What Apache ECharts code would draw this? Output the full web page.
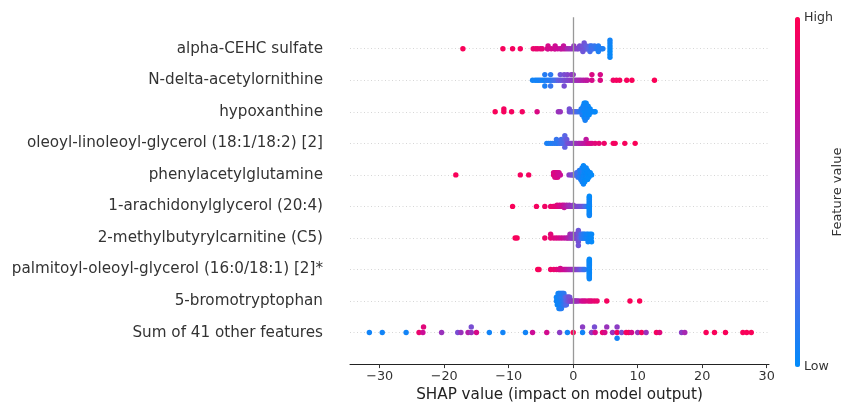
<!DOCTYPE html>
<html>
<head>
<meta charset="utf-8">
<script src="https://cdn.jsdelivr.net/npm/echarts@6/dist/echarts.min.js"></script>
<style>html,body{margin:0;padding:0;background:#fff;}#chart{width:846px;height:408px;}</style>
</head>
<body>
<div id="chart"></div>
<script>
// ---------- data ----------
const features = [
  'alpha-CEHC sulfate',
  'N-delta-acetylornithine',
  'hypoxanthine',
  'oleoyl-linoleoyl-glycerol (18:1/18:2) [2]',
  'phenylacetylglutamine',
  '1-arachidonylglycerol (20:4)',
  '2-methylbutyrylcarnitine (C5)',
  'palmitoyl-oleoyl-glycerol (16:0/18:1) [2]*',
  '5-bromotryptophan',
  'Sum of 41 other features'
];
const xTicks = [-30, -20, -10, 0, 10, 20, 30];

// each point: [SHAP value, normalised feature value]
const alphaCEHC = [
  [-17.1,0.97],[-10.9,0.96],[-9.4,0.95],[-8.2,0.95],
  [-6.2,0.9],[-5.8,0.9],[-5.5,0.88],[-5.1,0.88],[-4.8,0.86],
  [-4.0,0.8],[-3.9,0.78],[-3.9,0.8],[-3.4,0.78],[-2.9,0.78],[-2.8,0.75],[-2.8,0.76],[-2.4,0.75],[-2.0,0.72],[-1.8,0.72],[-1.5,0.7],[-1.5,0.72],[-1.2,0.68],
  [-0.9,0.6],[-0.6,0.58],[-0.3,0.55],[0.0,0.55],[0.1,0.52],[0.3,0.5],[0.6,0.48],[0.8,0.45],
  [1.0,0.42],[1.2,0.4],[1.4,0.4],[1.5,0.38],[1.5,0.36],[1.5,0.35],[1.7,0.36],[1.9,0.35],[2.0,0.33],[2.0,0.3],[2.2,0.3],
  [2.4,0.25],[2.6,0.22],[2.6,0.2],[2.8,0.2],[2.85,0.15],[2.9,0.18],[3.1,0.18],[3.3,0.15],[3.6,0.12],[3.8,0.12],[3.9,0.1],[3.9,0.08],[4.1,0.1],[4.4,0.1],[4.6,0.08],
  [5.7,0.02],[5.7,0.03],[5.7,0.01],[5.7,0.04],[5.7,0.02],[5.7,0.05],[5.7,0.03]
];
const nDeltaAcetylornithine = [
  [-6.3,0.05],[-5.9,0.05],[-5.6,0.06],[-5.3,0.05],[-5.0,0.08],[-4.7,0.06],[-4.4,0.05],[-4.4,0.1],[-4.4,0.08],[-4.1,0.1],[-3.8,0.1],[-3.5,0.1],[-3.5,0.12],[-3.5,0.15],[-3.2,0.15],[-2.9,0.18],[-2.6,0.2],
  [-2.3,0.3],[-2.0,0.32],[-2.0,0.35],[-1.7,0.35],[-1.4,0.38],[-1.4,0.4],[-1.4,0.4],[-1.1,0.4],[-0.9,0.42],[-0.9,0.45],[-0.6,0.45],[-0.3,0.48],[-0.3,0.5],[0.0,0.5],[0.0,0.52],
  [0.3,0.55],[0.6,0.58],[0.9,0.6],[1.2,0.62],[1.55,0.65],[1.9,0.68],[2.2,0.7],
  [2.9,0.8],[2.9,0.82],[4.2,0.82],[4.2,0.8],
  [6.2,0.92],[6.7,0.95],[7.2,0.95],[8.3,0.96],[9.1,0.97],[12.6,0.98]
];
const hypoxanthine = [
  [-12.1,0.97],[-10.75,0.96],[-10.75,0.95],[-9.55,0.95],[-7.9,0.94],[-5.6,0.82],[-2.3,0.55],[-2.0,0.55],[-0.6,0.4],[-0.6,0.38],[-0.3,0.35],[0.0,0.3],[0.3,0.28],[0.6,0.2],[0.92,0.15],
  [1.23,0.12],[1.23,0.1],
  [1.385,0.1],[1.385,0.08],[1.385,0.12],
  [1.54,0.05],[1.54,0.08],[1.54,0.1],[1.54,0.06],
  [1.695,0.05],[1.695,0.03],[1.695,0.08],[1.695,0.04],[1.695,0.06],[1.695,0.02],
  [1.85,0.02],[1.85,0.05],[1.85,0.03],[1.85,0.06],[1.85,0.01],[1.85,0.04],[1.85,0.07],
  [2.005,0.03],[2.005,0.05],[2.005,0.02],[2.005,0.06],[2.005,0.04],[2.005,0.03],
  [2.16,0.04],[2.16,0.02],[2.16,0.05],[2.16,0.03],[2.16,0.06],
  [2.315,0.03],[2.315,0.05],[2.315,0.02],[2.315,0.04],
  [2.47,0.03],[2.47,0.05],[2.47,0.02],
  [2.625,0.04],[2.625,0.02],
  [2.78,0.03],[2.935,0.02],[3.245,0.03],[3.4,0.02]
];
const oleoylLinoleoylGlycerol = [
  [-4.1,0.08],[-3.8,0.06],[-3.5,0.1],[-3.2,0.08],[-2.9,0.12],[-2.6,0.1],[-2.6,0.15],[-2.4,0.12],[-2.1,0.15],[-1.85,0.18],[-1.85,0.2],[-1.6,0.2],[-1.3,0.22],[-1.3,0.25],[-1.3,0.28],[-1.3,0.25],[-1.0,0.3],[-1.0,0.32],
  [-0.8,0.38],[-0.5,0.4],[-0.3,0.42],[-0.1,0.45],[0.1,0.48],
  [0.3,0.52],[0.5,0.55],[0.8,0.58],[1.0,0.6],[1.2,0.62],[1.4,0.65],[1.7,0.68],[2.0,0.7],[2.0,0.7],
  [2.3,0.78],[2.6,0.8],[2.9,0.82],[3.4,0.86],[4.0,0.88],
  [4.8,0.92],[6.2,0.95],[6.5,0.95],[8.0,0.96],[9.6,0.98]
];
const phenylacetylglutamine = [
  [-18.2,0.97],[-8.2,0.95],[-6.9,0.95],
  [-3.044,0.85],[-3.044,0.82],[-2.834,0.84],[-2.834,0.8],[-2.834,0.82],[-2.623,0.8],[-2.623,0.83],[-2.623,0.78],[-2.412,0.8],[-2.412,0.78],[-2.412,0.82],[-2.202,0.76],[-2.202,0.78],[-1.99,0.75],
  [-0.65,0.5],[-0.3,0.45],[-0.1,0.4],
  [0.1135,0.35],[0.324,0.3],
  [0.5345,0.25],[0.5345,0.2],
  [0.745,0.18],[0.745,0.2],[0.745,0.15],
  [0.9555,0.12],[0.9555,0.15],[0.9555,0.1],[0.9555,0.14],
  [1.166,0.1],[1.166,0.08],[1.166,0.12],[1.166,0.06],[1.166,0.1],
  [1.3765,0.05],[1.3765,0.08],[1.3765,0.06],[1.3765,0.1],[1.3765,0.04],[1.3765,0.07],[1.3765,0.05],
  [1.587,0.03],[1.587,0.05],[1.587,0.02],[1.587,0.06],[1.587,0.04],[1.587,0.03],[1.587,0.05],[1.587,0.02],[1.587,0.04],
  [1.7975,0.03],[1.7975,0.02],[1.7975,0.05],[1.7975,0.04],[1.7975,0.01],[1.7975,0.03],[1.7975,0.02],
  [2.008,0.02],[2.008,0.04],[2.008,0.03],[2.008,0.01],[2.008,0.02],[2.008,0.03],
  [2.2185,0.02],[2.2185,0.01],[2.2185,0.03],[2.2185,0.02],[2.2185,0.01],
  [2.429,0.01],[2.429,0.02],[2.429,0.01],
  [2.6395,0.01],[2.6395,0.02],
  [2.85,0.01]
];
const arachidonylglycerol = [
  [-9.4,0.97],[-5.7,0.95],[-4.4,0.93],[-3.5,0.9],[-3.1,0.9],[-2.9,0.88],[-2.7,0.88],[-2.5,0.86],[-2.5,0.85],[-2.3,0.85],[-2.1,0.82],[-2.1,0.8],[-1.9,0.8],[-1.7,0.78],[-1.7,0.78],[-1.6,0.76],[-1.4,0.75],[-1.4,0.72],[-1.4,0.72],[-1.2,0.7],[-1.0,0.68],[-1.0,0.66],
  [-0.8,0.62],[-0.6,0.6],[-0.6,0.58],[-0.4,0.56],[-0.2,0.55],[0.0,0.52],[0.0,0.5],[0.2,0.48],[0.4,0.46],[0.6,0.44],[0.8,0.42],[1.0,0.4],[1.2,0.38],[1.4,0.36],[1.6,0.34],[1.8,0.25],[2.0,0.2],[2.2,0.15],
  [2.5,0.02],[2.5,0.03],[2.5,0.01],[2.5,0.04],[2.5,0.02],[2.5,0.05],[2.5,0.03],[2.5,0.01],[2.5,0.02],
  [2.5,0.04],[2.5,0.03],[2.5,0.02],[2.5,0.01],[2.5,0.05],[2.5,0.03],[2.5,0.02],[2.5,0.04],[2.5,0.01]
];
const methylbutyrylcarnitine = [
  [-9.0,0.97],[-8.7,0.96],[-4.4,0.92],[-3.5,0.88],[-3.5,0.86],[-3.0,0.84],[-2.6,0.82],[-2.2,0.8],[-1.8,0.76],[-1.4,0.72],[-1.0,0.68],[-0.8,0.65],[-0.5,0.6],[-0.5,0.58],
  [-0.3,0.55],[-0.1,0.52],[-0.1,0.5],[0.1,0.5],[0.2,0.48],[0.4,0.45],[0.4,0.45],[0.6,0.42],[0.7,0.4],
  [0.8,0.38],[0.8,0.36],[0.8,0.38],[0.8,0.35],[0.8,0.37],
  [1.0,0.3],[1.2,0.25],[1.2,0.2],[1.3,0.18],[1.4,0.15],[1.4,0.15],[1.5,0.12],[1.6,0.12],[1.7,0.1],[1.8,0.1],[1.8,0.08],[1.9,0.08],[2.0,0.06],[2.1,0.06],[2.1,0.05],
  [2.2,0.05],[2.3,0.05],[2.3,0.04],[2.4,0.04],[2.5,0.03],[2.6,0.03],[2.6,0.02],[2.7,0.02],[2.8,0.02],[2.85,0.02],[2.85,0.01]
];
const palmitoylOleoylGlycerol = [
  [-5.5,0.97],[-5.3,0.96],[-3.5,0.92],[-3.0,0.9],[-2.6,0.88],[-2.3,0.84],[-2.1,0.82],[-2.0,0.82],[-2.0,0.8],[-1.8,0.8],[-1.6,0.78],[-1.4,0.76],[-1.2,0.74],[-1.0,0.72],
  [-0.8,0.68],[-0.6,0.65],[-0.4,0.62],[-0.2,0.6],[0.0,0.56],[0.2,0.52],[0.4,0.5],[0.6,0.46],[0.8,0.42],[1.0,0.38],[1.2,0.32],[1.4,0.25],[1.6,0.2],[1.8,0.15],
  [2.5,0.02],[2.5,0.03],[2.5,0.01],[2.5,0.04],[2.5,0.02],[2.5,0.05],[2.5,0.03],[2.5,0.01],[2.5,0.02],[2.5,0.04],
  [2.5,0.03],[2.5,0.02],[2.5,0.01],[2.5,0.05],[2.5,0.03],[2.5,0.02],[2.5,0.04],[2.5,0.01],[2.5,0.03],[2.5,0.02]
];
const bromotryptophan = [
  [-2.6,0.05],[-2.6,0.03],
  [-2.471,0.04],[-2.471,0.06],[-2.471,0.02],
  [-2.342,0.05],[-2.342,0.03],[-2.342,0.06],[-2.342,0.04],
  [-2.213,0.04],[-2.213,0.06],[-2.213,0.03],[-2.213,0.05],[-2.213,0.07],
  [-2.084,0.05],[-2.084,0.08],[-2.084,0.04],[-2.084,0.06],[-2.084,0.05],
  [-1.955,0.06],[-1.955,0.08],[-1.955,0.05],[-1.955,0.07],[-1.955,0.06],
  [-1.826,0.07],[-1.826,0.09],[-1.826,0.06],[-1.826,0.08],[-1.826,0.1],
  [-1.697,0.08],[-1.697,0.1],[-1.697,0.07],[-1.697,0.09],
  [-1.568,0.1],[-1.568,0.12],[-1.568,0.09],[-1.568,0.11],
  [-1.439,0.12],[-1.439,0.1],[-1.439,0.14],[-1.439,0.12],
  [-1.31,0.14],[-1.31,0.16],[-1.31,0.13],
  [-1.181,0.2],[-1.181,0.22],[-1.181,0.18],
  [-1.052,0.24],[-1.052,0.26],[-1.052,0.22],
  [-0.923,0.28],[-0.923,0.3],
  [-0.794,0.32],[-0.794,0.3],
  [-0.665,0.36],[-0.665,0.38],
  [-0.536,0.4],[-0.536,0.38],
  [-0.407,0.42],[-0.278,0.45],
  [0.0,0.5],[0.2,0.52],[0.4,0.55],[0.6,0.58],[0.9,0.6],
  [1.3,0.75],[1.6,0.78],[1.9,0.8],[2.3,0.82],[2.6,0.84],[2.9,0.86],[3.3,0.88],[3.7,0.9],
  [5.2,0.95],[8.8,0.97],[10.3,0.98]
];
const sumOfOtherFeatures = [
  [-31.6,0.05],[-29.6,0.05],[-25.9,0.05],[-23.9,0.9],[-23.3,0.75],[-23.2,0.85],[-20.4,0.55],[-17.9,0.4],[-17.4,0.55],[-16.3,0.65],[-15.8,0.55],[-15.8,0.4],[-15.0,0.8],
  [-13.0,0.05],[-10.9,0.05],[-7.4,0.05],[-6.3,0.75],[-4.1,0.78],[-2.1,0.5],[-0.9,0.05],[0.0,0.97],
  [1.45,0.05],[1.45,0.5],[2.85,0.5],[3.4,0.8],[3.3,0.4],[4.55,0.9],[4.9,0.8],[5.2,0.55],[6.1,0.55],[6.8,0.95],[6.8,0.5],[6.8,0.05],[7.5,0.4],
  [8.2,0.95],[8.6,0.95],[9.05,0.8],[10.0,0.55],[10.6,0.95],[11.3,0.55],[12.9,0.95],[13.4,0.85],[16.8,0.5],[17.3,0.6],
  [20.6,0.97],[21.9,0.97],[23.6,0.97],[26.3,0.97],[26.9,0.97],[27.6,0.97]
];
const rows = [alphaCEHC, nDeltaAcetylornithine, hypoxanthine, oleoylLinoleoylGlycerol, phenylacetylglutamine,
  arachidonylglycerol, methylbutyrylcarnitine, palmitoylOleoylGlycerol, bromotryptophan, sumOfOtherFeatures];

// ---------- beeswarm layout (same scheme as shap) ----------
function beeswarm(points, pos) {
  const vals = points.map(p => p[0]);
  const mn = Math.min(...vals), mx = Math.max(...vals);
  const nbins = 100;
  const quant = vals.map(v => Math.round(nbins * (v - mn) / (mx - mn + 1e-8)));
  const inds = vals.map((_, i) => i).sort((a, b) => (quant[a] - quant[b]) || (a - b));
  const ys = new Array(vals.length).fill(0);
  let layer = 0, last = -1;
  for (const ind of inds) {
    if (quant[ind] !== last) layer = 0;
    ys[ind] = Math.ceil(layer / 2) * ((layer % 2) * 2 - 1);
    layer++;
    last = quant[ind];
  }
  const maxY = Math.max(...ys.map(y => y + 1));
  const scale = 0.9 * (0.4 / maxY);
  return points.map((p, i) => [p[0], pos + ys[i] * scale, p[1]]);
}

const FONT = 'DejaVu Sans';
const N = features.length;
const series = [{
  type: 'scatter', data: [], z: 1, silent: true,
  markLine: {
    silent: true, symbol: 'none', animation: false,
    label: { show: false },
    lineStyle: { color: '#999999', width: 1.3, type: 'solid' },
    data: [{ xAxis: 0 }]
  }
}];
rows.forEach((pts, i) => {
  series.push({
    type: 'scatter',
    data: beeswarm(pts, N - 1 - i),
    symbolSize: 5.4,
    itemStyle: { opacity: 1 },
    z: 3,
    silent: true
  });
});

const chart = echarts.init(document.getElementById('chart'), null, { renderer: 'canvas' });
chart.setOption({
  animation: false,
  backgroundColor: '#ffffff',
  grid: { left: 350, right: 77, top: 17.2, bottom: 40.5, containLabel: false },
  xAxis: {
    type: 'value', min: -34.6, max: 30.35,
    name: 'SHAP value (impact on model output)',
    nameLocation: 'middle', nameGap: 23,
    nameTextStyle: { fontFamily: FONT, fontSize: 15.2, color: '#222' },
    axisLine: { show: true, onZero: false, lineStyle: { color: '#222', width: 1 } },
    axisTick: { show: true, customValues: xTicks, length: 4, lineStyle: { color: '#333' } },
    axisLabel: { customValues: xTicks, fontFamily: FONT, fontSize: 12.8, color: '#333', margin: 6,
      formatter: v => String(v).replace('-', '\u2212') },
    splitLine: { show: false }
  },
  yAxis: {
    type: 'value', min: -1, max: N, interval: 1,
    axisLine: { show: false, onZero: false }, axisTick: { show: false },
    axisLabel: { fontFamily: FONT, fontSize: 15.2, color: '#333', margin: 27,
      formatter: v => (v >= 0 && v <= N - 1) ? features[N - 1 - v] : '' },
    splitLine: { show: true, showMinLine: false, showMaxLine: false,
      lineStyle: { color: '#cccccc', width: 0.8, type: [1, 2.5] } }
  },
  visualMap: {
    type: 'continuous', min: 0, max: 1, dimension: 2,
    seriesIndex: rows.map((_, i) => i + 1),
    inRange: { color: ['#008bfb', '#5a66e6', '#8c3cc4', '#cc0c96', '#ff0051'] },
    orient: 'vertical', left: 795, top: 17, itemWidth: 5, itemHeight: 350,
    calculable: false, padding: 0, text: null, showLabel: false, hoverLink: false
  },
  graphic: [
    { type: 'text', x: 804, y: 18, silent: true,
      style: { text: 'High', fontFamily: FONT, fontSize: 12.6, fill: '#333', verticalAlign: 'middle' } },
    { type: 'text', x: 804, y: 367, silent: true,
      style: { text: 'Low', fontFamily: FONT, fontSize: 12.6, fill: '#333', verticalAlign: 'middle' } },
    { type: 'text', x: 838, y: 192, rotation: Math.PI / 2, silent: true,
      style: { text: 'Feature value', fontFamily: FONT, fontSize: 13, fill: '#333', align: 'center', verticalAlign: 'middle' } }
  ],
  series: series
});
</script>
</body>
</html>
